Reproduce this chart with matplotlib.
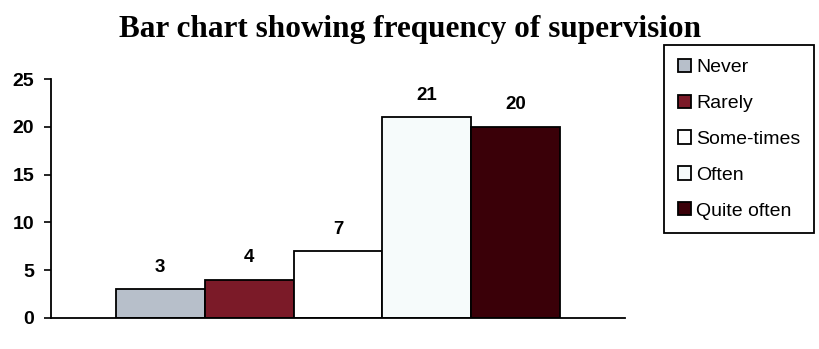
import matplotlib
matplotlib.use("Agg")
import matplotlib.pyplot as plt
from matplotlib.patches import Patch

categories = ["Never", "Rarely", "Some-times", "Often", "Quite often"]
values = [3, 4, 7, 21, 20]
colors = ["#b7bfca", "#7b1a28", "#ffffff", "#f6fbfb", "#3a0008"]
yticks = [0, 5, 10, 15, 20, 25]

fig = plt.figure(figsize=(8.19, 3.49), dpi=100)
ax = fig.add_axes([51 / 819, 31 / 349, (625 - 51) / 819, (318 - 79) / 349])

x = list(range(len(values)))
ax.bar(x, values, width=1.0, color=colors, edgecolor="black", linewidth=1.3)

for xi, v in zip(x, values):
    ax.annotate(str(v), (xi, v), xytext=(0, 22), textcoords="offset pixels",
                ha="center", va="center", fontsize=13.5, fontweight="bold",
                family="Liberation Sans")

ax.set_xlim(-1.23, 5.23)
ax.set_ylim(0, 25)
ax.set_yticks(yticks)
ax.set_xticks([])
for lab in ax.get_yticklabels():
    lab.set_fontweight("bold")
    lab.set_family("Liberation Sans")
    lab.set_fontsize(14)
ax.tick_params(axis="y", length=5, width=1.2, pad=7)
ax.spines["top"].set_visible(False)
ax.spines["right"].set_visible(False)
ax.spines["left"].set_linewidth(1.3)
ax.spines["bottom"].set_linewidth(1.3)

fig.text(410 / 819, 1 - 30 / 349, "Bar chart showing frequency of supervision",
         ha="center", va="center", fontsize=22.5, fontweight="bold",
         family="Liberation Serif")

handles = [Patch(facecolor=c, edgecolor="black", linewidth=1.3) for c in colors]
leg = fig.legend(handles, categories, loc="upper left",
                 bbox_to_anchor=(664 / 819, 1 - 45 / 349), borderaxespad=0,
                 fancybox=False, framealpha=1, edgecolor="black",
                 prop={"family": "Liberation Sans", "size": 14},
                 handlelength=0.67, handleheight=0.67, handletextpad=0.3,
                 labelspacing=0.95, borderpad=0.7)
leg.get_frame().set_linewidth(1.3)

fig.savefig("out.png", dpi=100, facecolor="white")
